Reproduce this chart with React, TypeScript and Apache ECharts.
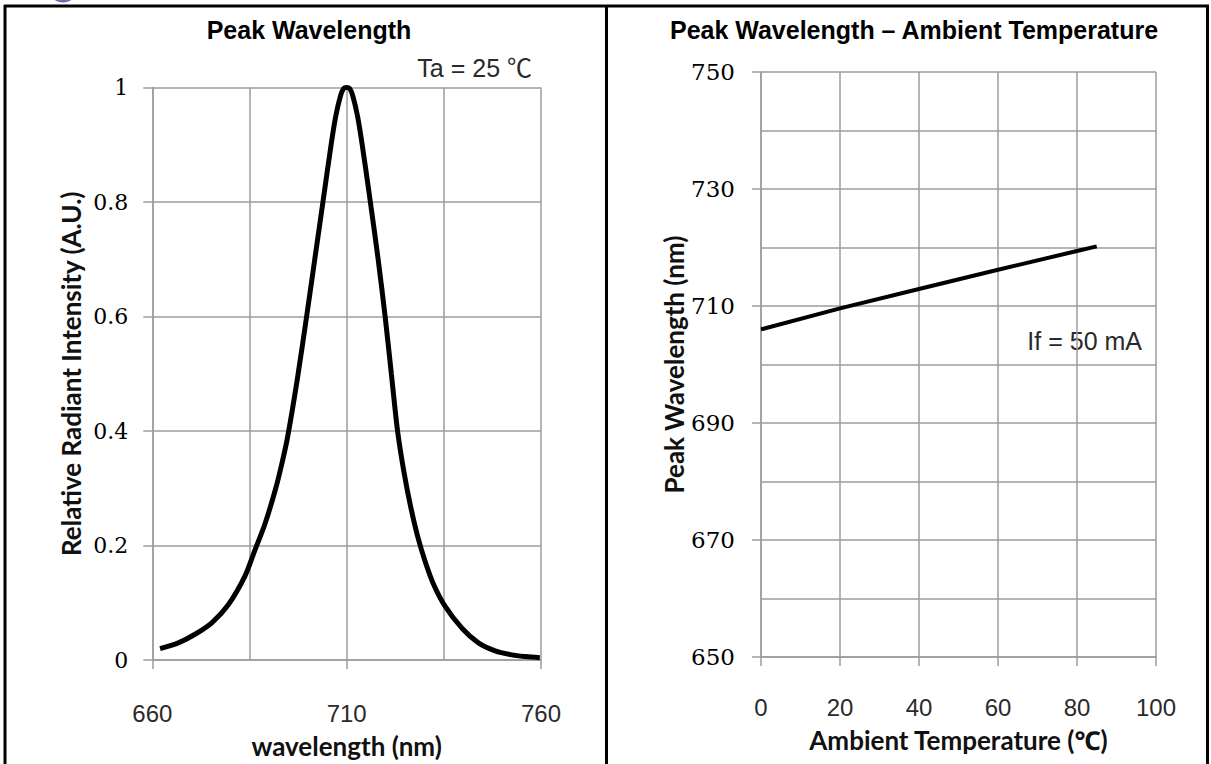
import React, { useEffect, useRef } from "react";
import * as echarts from "echarts";

// ---- Left chart: relative spectrum ----
const spectrumWavelength = [
  662, 666.7, 671, 675.3, 679.6, 683.8, 686.4, 689, 691.6, 693.3, 694.8, 697.3,
  699.7, 701.8, 703.9, 706, 707.2, 708.4, 709.2, 710, 710.8, 711.6, 712.8, 714,
  716.1, 718.1, 719.9, 721.5, 723.1, 724.7, 726.4, 728.3, 730.3, 732.5, 735.3,
  739.6, 743.9, 748.2, 752.5, 756, 759.7,
];
const spectrumIntensity = [
  0.02, 0.03, 0.045, 0.065, 0.097, 0.146, 0.192, 0.238, 0.296, 0.342, 0.389, 0.49,
  0.6, 0.7, 0.8, 0.9, 0.95, 0.985, 0.998, 1.0, 0.998, 0.985, 0.95, 0.9,
  0.8, 0.7, 0.6, 0.5, 0.4, 0.33, 0.27, 0.215, 0.17, 0.13, 0.094,
  0.056, 0.03, 0.016, 0.009, 0.006, 0.004,
];
const leftXLabels = [660, 710, 760];

// ---- Right chart: peak wavelength vs temperature ----
const ambientTemp = [0, 20, 40, 60, 80, 85];
const peakWavelength = [706, 709.6, 712.9, 716.2, 719.4, 720.2];

const GRID_COLOR = "#9c9c9c";
const SERIF = "'DejaVu Serif', serif";
const SANS = "'Liberation Sans', Arial, 'Noto Sans CJK SC', sans-serif";
const BOLD_SANS = "Lato, 'Noto Sans', sans-serif";

export default function App() {
  const ref = useRef<HTMLDivElement>(null);

  useEffect(() => {
    if (!ref.current) return;
    const chart = echarts.init(ref.current, undefined, { renderer: "svg" });

    const gridLine = { show: true, lineStyle: { color: GRID_COLOR, width: 1.5 } };
    const axisLine = { show: true, lineStyle: { color: GRID_COLOR, width: 1.5 } };
    const tick = { show: true, inside: false, length: 9, lineStyle: { color: GRID_COLOR, width: 1.5 } };
    const nameStyle = { fontFamily: BOLD_SANS, fontWeight: "bold", fontSize: 26, color: "#111" };

    chart.setOption({
      animation: false,
      backgroundColor: "#ffffff",
      grid: [
        { left: 152.3, top: 87.5, width: 388.7, height: 576.5 },
        { left: 761, top: 72, width: 395, height: 585 },
      ],
      xAxis: [
        {
          type: "value",
          gridIndex: 0,
          min: 660,
          max: 760,
          interval: 50,
          axisLine,
          axisTick: tick,
          splitLine: gridLine,
          minorTick: { show: false, splitNumber: 2 },
          minorSplitLine: gridLine,
          axisLabel: {
            margin: 41,
            fontFamily: SANS,
            fontSize: 24,
            color: "#2a2a2a",
            formatter: (v: number) => (leftXLabels.includes(v) ? String(v) : ""),
          },
          name: "wavelength (nm)",
          nameLocation: "middle",
          nameGap: 73,
          nameTextStyle: nameStyle,
        },
        {
          type: "value",
          gridIndex: 1,
          min: 0,
          max: 100,
          interval: 20,
          axisLine,
          axisTick: tick,
          splitLine: gridLine,
          axisLabel: { margin: 38, fontFamily: SANS, fontSize: 24, color: "#2a2a2a" },
          name: "Ambient Temperature (℃)",
          nameLocation: "middle",
          nameGap: 70,
          nameTextStyle: nameStyle,
        },
      ],
      yAxis: [
        {
          type: "value",
          gridIndex: 0,
          min: 0,
          max: 1,
          interval: 0.2,
          axisLine,
          axisTick: tick,
          splitLine: gridLine,
          axisLabel: { margin: 24, fontFamily: SERIF, fontSize: 22, color: "#000" },
          name: "Relative Radiant Intensity (A.U.)",
          nameLocation: "middle",
          nameRotate: 90,
          nameGap: 68,
          nameTextStyle: nameStyle,
        },
        {
          type: "value",
          gridIndex: 1,
          min: 650,
          max: 750,
          interval: 20,
          axisLine,
          axisTick: tick,
          splitLine: gridLine,
          minorTick: { show: false, splitNumber: 2 },
          minorSplitLine: gridLine,
          axisLabel: { margin: 26, fontFamily: SERIF, fontSize: 23, color: "#000" },
          name: "Peak Wavelength (nm)",
          nameLocation: "middle",
          nameRotate: 90,
          nameGap: 70,
          nameTextStyle: nameStyle,
        },
      ],
      series: [
        {
          type: "line",
          xAxisIndex: 0,
          yAxisIndex: 0,
          data: spectrumWavelength.map((w, i) => [w, spectrumIntensity[i]]),
          showSymbol: false,
          smooth: 0.3,
          lineStyle: { color: "#000", width: 5 },
          clip: false,
        },
        {
          type: "line",
          xAxisIndex: 1,
          yAxisIndex: 1,
          data: ambientTemp.map((t, i) => [t, peakWavelength[i]]),
          showSymbol: false,
          lineStyle: { color: "#000", width: 4 },
        },
      ],
      graphic: [
        { type: "ellipse", shape: { cx: 63, cy: -10, rx: 14, ry: 12.5 }, style: { fill: "#7468b3" } },
        { type: "line", shape: { x1: 4, y1: 6, x2: 1209, y2: 6 }, style: { stroke: "#000", lineWidth: 3 } },
        { type: "line", shape: { x1: 5, y1: 5, x2: 5, y2: 764 }, style: { stroke: "#000", lineWidth: 3 } },
        { type: "line", shape: { x1: 606.5, y1: 5, x2: 606.5, y2: 764 }, style: { stroke: "#000", lineWidth: 3 } },
        { type: "line", shape: { x1: 1207.5, y1: 5, x2: 1207.5, y2: 764 }, style: { stroke: "#000", lineWidth: 3 } },
        {
          type: "text",
          x: 309,
          y: 30,
          style: {
            text: "Peak Wavelength",
            fontFamily: "'Liberation Sans', Arial, sans-serif",
            fontWeight: "bold",
            fontSize: 25,
            fill: "#000",
            align: "center",
            verticalAlign: "middle",
          },
        },
        {
          type: "text",
          x: 914,
          y: 30,
          style: {
            text: "Peak Wavelength – Ambient Temperature",
            fontFamily: "'Liberation Sans', Arial, sans-serif",
            fontWeight: "bold",
            fontSize: 25,
            fill: "#000",
            align: "center",
            verticalAlign: "middle",
          },
        },
        {
          type: "text",
          x: 532,
          y: 68,
          style: {
            text: "Ta = 25 ℃",
            fontFamily: SANS,
            fontSize: 25,
            fill: "#2a2a2a",
            align: "right",
            verticalAlign: "middle",
          },
        },
        {
          type: "text",
          x: 1142,
          y: 341,
          style: {
            text: "If = 50 mA",
            fontFamily: SANS,
            fontSize: 25,
            fill: "#2a2a2a",
            align: "right",
            verticalAlign: "middle",
          },
        },
      ],
    });

    return () => chart.dispose();
  }, []);

  return (
    <div
      ref={ref}
      style={{ position: "absolute", left: 0, top: 0, width: 1211, height: 764 }}
    />
  );
}
